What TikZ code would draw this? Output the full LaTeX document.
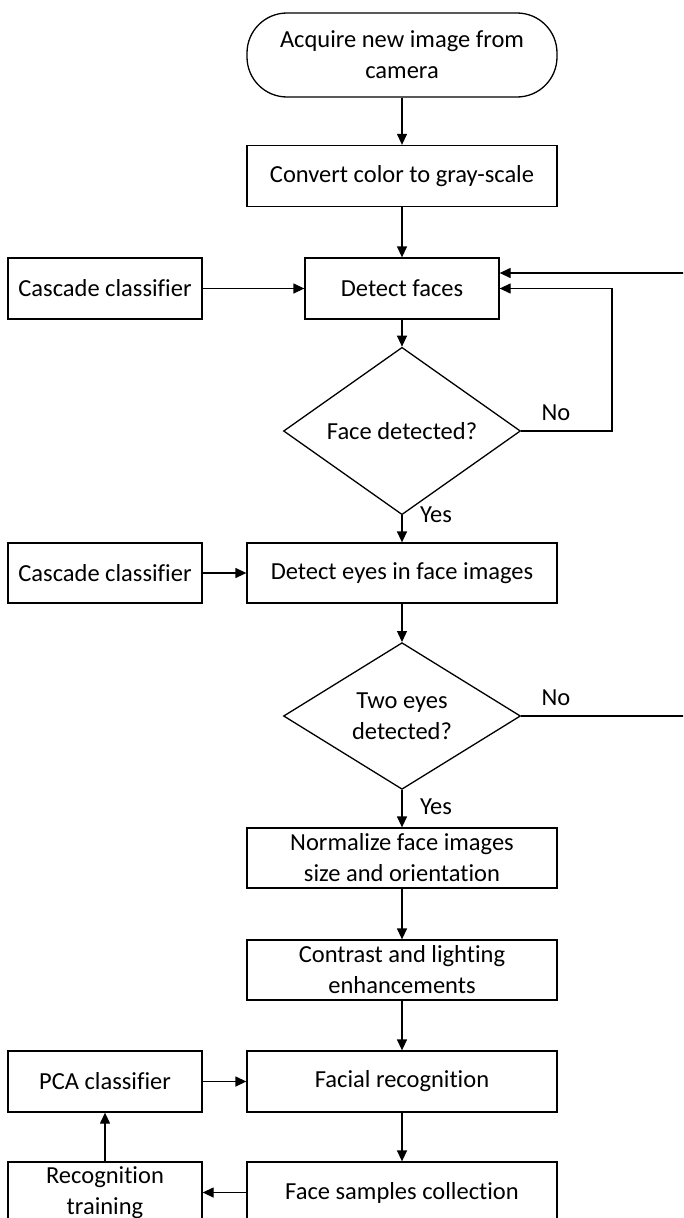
\documentclass[tikz,border=0pt]{standalone}
\usepackage{fontspec}
\setmainfont{Carlito}[Ligatures=NoCommon]
\usetikzlibrary{arrows.meta,shapes.geometric}

\begin{document}
\begin{tikzpicture}[x=1pt,y=-1pt,line width=1.3pt,
  >={Triangle[length=11pt,width=10pt]},
  font=\fontsize{24.5}{31}\selectfont,
  box/.style={draw,rectangle,align=center,inner sep=0pt,minimum height=61pt,minimum width=310pt},
  sidebox/.style={box,minimum width=194pt},
  terminal/.style={box,rounded corners=40pt,minimum height=84pt},
  decision/.style={draw,diamond,align=center,inner sep=0pt,minimum width=237pt,minimum height=142pt}]

\useasboundingbox (0,0) rectangle (683,1218);
\clip (0,0) rectangle (683,1218);

%------------------------------------------------
% Main column
%------------------------------------------------
\node[terminal] (start) at (402,55) {Acquire new image from\\camera};
\node[box] (gray) at (402,176) {Convert color to gray-scale};
\node[sidebox] (faces) at (402,288.5) {Detect faces};
\node[decision] (facedec) at (402,431) {Face detected?};
\node[box,minimum height=60pt] (eyes) at (402,573) {Detect eyes in face images};
\node[decision,minimum height=140pt] (eyesdec) at (402,716) {Two eyes\\detected?};
\node[box,minimum height=60pt] (norm) at (402,858) {Normalize face images\\size and orientation};
\node[box,minimum height=60pt] (contrast) at (402,970) {Contrast and lighting\\enhancements};
\node[box] (facial) at (402,1081.5) {Facial recognition};
\node[box] (samples) at (402,1192.5) {Face samples collection};

%------------------------------------------------
% Left column
%------------------------------------------------
\node[sidebox] (casc1) at (105,288.5) {Cascade classifier};
\node[sidebox,minimum height=60pt] (casc2) at (105,573) {Cascade classifier};
\node[sidebox] (pca) at (105,1081.5) {PCA classifier};
\node[sidebox] (train) at (105,1192.5) {Recognition\\training};

% Labels
\node (yes1) at (436,515) {Yes};
\node (yes2) at (436,807) {Yes};
\node (no1) at (556,413) {No};
\node (no2) at (556,698) {No};

% Loop back points
\coordinate (loop1) at (612,288.5);
\coordinate (loop2) at (700,273);

%------------------------------------------------
% Connectors
%------------------------------------------------
\draw[->] (start) -- (gray);
\draw[->] (gray) -- (faces);
\draw[->] (casc1) -- (faces);
\draw[->] (faces) -- (facedec);
\draw[->] (facedec) -- (eyes);
\draw[->] (casc2) -- (eyes);
\draw[->] (eyes) -- (eyesdec);
\draw[->] (eyesdec) -- (norm);
\draw[->] (norm) -- (contrast);
\draw[->] (contrast) -- (facial);
\draw[->] (pca) -- (facial);
\draw[->] (facial) -- (samples);
\draw[->] (samples) -- (train);
\draw[->] (train) -- (pca);

% No branches
\draw[->] (facedec.east) -- (facedec.east -| loop1) -- (loop1) -- (faces.east);
\draw[->] (eyesdec.east) -- (eyesdec.east -| loop2) -- (loop2) -- (loop2 -| faces.east);

\end{tikzpicture}
\end{document}
